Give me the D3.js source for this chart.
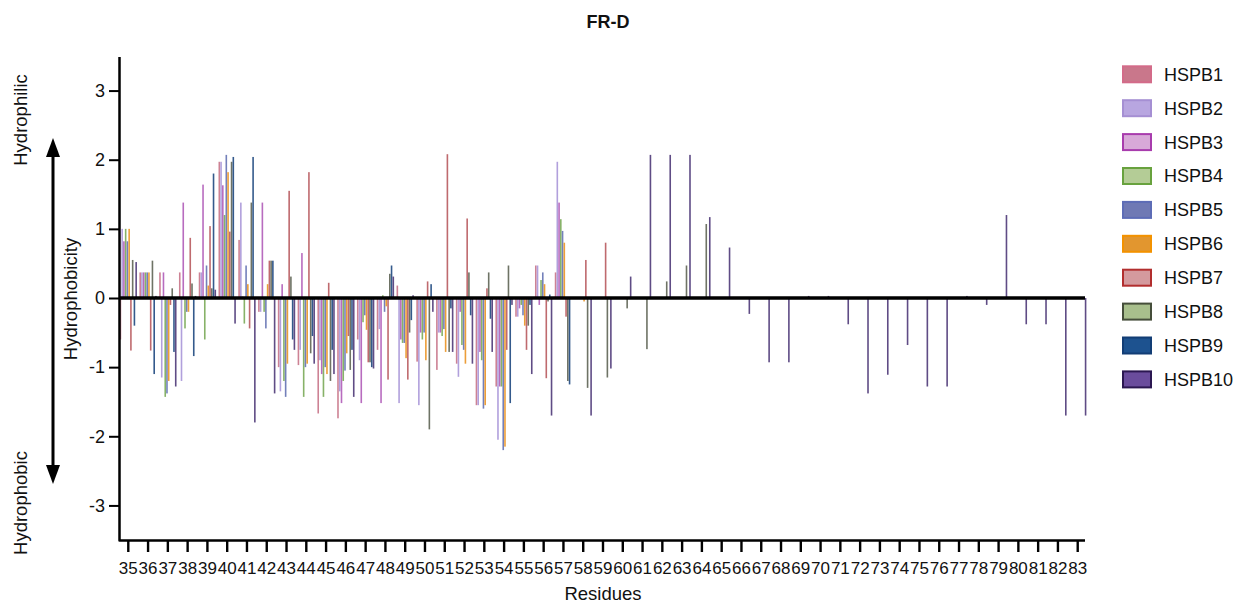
<!DOCTYPE html>
<html>
<head>
<meta charset="utf-8">
<script src="https://cdn.jsdelivr.net/npm/d3@7"></script>
<style>
  body { margin: 0; background: #fff; }
  text { font-family: "Liberation Sans", Arial, Helvetica, sans-serif; fill: #111; }
</style>
</head>
<body>
<svg id="chart" width="1250" height="604"></svg>
<script>
// Residue positions along the x axis
const residues = ["35","36","37","38","39","40","41","42","43","44","45","46","47","48","49","50","51","52","53","54","55","56","57","58","59","60","61","62","63","64","65","66","67","68","69","70","71","72","73","74","75","76","77","78","79","80","81","82","83"];

const seriesNames = ["HSPB1","HSPB2","HSPB3","HSPB4","HSPB5","HSPB6","HSPB7","HSPB8","HSPB9","HSPB10"];

// Hydrophobicity per residue (null = no residue aligned at that position)
const hspb1 = [-0.6,0.37,0.37,0.37,0.37,1.97,0.84,-0.2,-1.0,-0.97,-1.67,-1.74,-0.6,-0.75,0.18,-0.92,-1.04,-0.95,-1.55,-1.28,-0.27,0.47,0.37,
  null,null,null,null,null,null,null,null,null,null,null,null,null,null,null,null,null,null,null,null,null,null,null,null,null,null];
const hspb2 = [1.0,0.37,-1.15,-1.2,0.37,1.97,1.38,-0.2,-1.35,-0.75,-0.9,-1.35,-0.9,-0.45,-1.52,-1.55,-0.5,-1.14,-1.55,-2.05,-0.27,0.47,1.97,
  null,null,null,null,null,null,null,null,null,null,null,null,null,null,null,null,null,null,null,null,null,null,null,null,null,null];
const hspb3 = [0.82,0.37,0.37,1.38,1.64,1.63,0.02,1.38,0.2,0.65,-1.1,-1.52,-1.52,-1.52,-0.6,-0.5,-0.5,-0.2,-0.78,-1.28,-0.15,-0.1,1.38,
  null,null,null,null,null,null,null,null,null,null,null,null,null,null,null,null,null,null,null,null,null,null,null,null,null,null];
const hspb4 = [1.0,0.37,-1.43,-0.44,-0.6,1.2,-0.37,-0.2,-1.2,-1.43,-1.43,-1.2,-0.35,0.04,-0.65,-0.6,-0.55,-0.68,-0.9,-1.28,-0.1,0.26,1.14,
  null,null,null,null,null,null,null,null,null,null,null,null,null,null,null,null,null,null,null,null,null,null,null,null,null,null];
const hspb5 = [0.82,0.37,-1.38,-0.2,0.47,2.07,0.47,-0.44,-1.43,-1.0,-1.0,-1.05,-0.25,-0.2,-0.65,-0.5,-0.45,-0.75,-1.6,-2.2,-0.25,0.37,0.97,
  null,null,null,null,null,null,null,null,null,null,null,null,null,null,null,null,null,null,null,null,null,null,null,null,null,null];
const hspb6 = [1.0,0.37,-1.2,-0.2,0.18,1.82,0.2,0.2,-0.95,-0.95,-1.1,-0.8,-0.46,-0.12,-0.87,-0.9,-0.78,-0.95,-1.55,-2.15,-0.4,0.2,0.8,
  -0.05,null,null,null,null,null,null,null,null,null,null,null,null,null,null,null,null,null,null,null,null,null,null,null,null,null];
const hspb7 = [-0.76,-0.76,-0.1,0.87,1.04,0.96,-0.44,0.54,1.55,1.82,0.22,-0.55,-0.93,-1.18,-1.18,0.24,2.08,1.15,0.14,-0.75,-0.75,-1.16,-0.27,
  0.55,0.8,null,null,null,null,null,null,null,null,null,null,null,null,null,null,null,null,null,null,null,null,null,null,null,null];
const hspb8 = [0.55,0.54,0.14,0.21,0.14,1.97,1.38,0.54,0.31,-0.8,-1.2,-1.04,-0.93,0.35,-0.5,-1.9,-0.78,0.37,0.37,0.47,-0.4,-0.05,-1.2,
  -1.3,-1.15,-0.15,-0.74,0.24,0.47,1.07,null,null,null,null,null,null,null,null,null,null,null,null,null,null,null,null,null,null,null];
const hspb9 = [-0.4,-1.1,-0.78,-0.84,1.8,2.04,2.04,0.54,-0.6,-0.55,-0.75,-0.75,-1.0,0.47,-0.32,0.2,-0.15,-0.25,-0.3,-1.52,-0.1,0.05,-1.25,
  null,null,null,null,null,null,null,null,null,null,null,null,null,null,null,null,null,null,null,null,null,null,null,null,null,null];
const hspb10 = [0.52,0.03,-1.28,0.03,0.12,-0.37,-1.8,-1.38,-0.75,-0.95,-1.1,-1.43,-1.02,0.31,0.04,-0.2,-0.78,-0.95,-0.78,-0.1,-1.1,-1.7,0,
  -1.7,-1.02,0.31,2.07,2.07,2.07,1.17,0.73,-0.23,-0.93,-0.93,0.03,0.03,-0.38,-1.38,-1.11,-0.68,-1.28,-1.28,0.03,-0.1,1.2,-0.38,-0.38,-1.7,-1.7];

const seriesValues = [hspb1, hspb2, hspb3, hspb4, hspb5, hspb6, hspb7, hspb8, hspb9, hspb10];

const yTicks = [-3, -2, -1, 0, 1, 2, 3];

// Legend swatch fill / outline, and the tone used for the thin bars
const swatchFill   = ["#c9778b","#b8a6e0","#d8a9d8","#b4cc96","#6f79b4","#e2962f","#d49a9e","#a8bf8c","#1d528f","#6a4c9c"];
const swatchStroke = ["#d36b89","#a58fd3","#a83cad","#68a23e","#5d6cb6","#f39200","#b22e2e","#454e3a","#123d75","#2b1751"];
const barColor     = ["#c87488","#a996d8","#b05cb8","#7aaa58","#6472b2","#ea9424","#b85a5e","#5e6454","#1e4880","#4e3878"];

const FONT = '"Liberation Sans", Arial, Helvetica, sans-serif';
const svg = d3.select("#chart");

const x = d3.scaleBand().domain(residues).range([118.4, 1087.6]).padding(0);
const xs = d3.scaleBand().domain(seriesNames).range([-8.75, 8.75]).padding(0);
const y = d3.scaleLinear().domain([-3.5, 3.5]).range([540, 56]);
const barW = 1.6;

// Bars
const barsG = svg.append("g");
seriesValues.forEach((vals, si) => {
  const pts = vals.map((v, i) => ({ v, r: residues[i] })).filter(d => d.v !== null);
  barsG.append("g")
    .selectAll("rect")
    .data(pts)
    .join("rect")
    .attr("x", d => x(d.r) + x.bandwidth() / 2 + xs(seriesNames[si]) + (xs.bandwidth() - barW) / 2)
    .attr("y", d => y(Math.max(0, d.v)))
    .attr("width", barW)
    .attr("height", d => Math.max(0.6, Math.abs(y(d.v) - y(0))))
    .attr("fill", barColor[si])
    .attr("opacity", 0.9);
});

// Zero line
svg.append("line")
  .attr("x1", 120).attr("x2", 1085)
  .attr("y1", y(0)).attr("y2", y(0))
  .attr("stroke", "#000").attr("stroke-width", 3.5);

// Axis frame
svg.append("path")
  .attr("d", `M119.5,57 V540.5 H1085`)
  .attr("fill", "none").attr("stroke", "#000")
  .attr("stroke-width", 2.5).attr("stroke-linejoin", "round");

// Y axis (plain hyphen for negative labels)
const yAxis = svg.append("g")
  .attr("transform", "translate(120,0)")
  .call(d3.axisLeft(y).tickValues(yTicks).tickSize(11).tickPadding(4).tickFormat(d => String(d)));
yAxis.select(".domain").remove();
yAxis.selectAll(".tick line").attr("stroke", "#000").attr("stroke-width", 2);
yAxis.selectAll(".tick text").style("font-size", "18px").style("font-family", FONT).attr("fill", "#222");

// X axis
const xAxis = svg.append("g")
  .attr("transform", "translate(0,540)")
  .call(d3.axisBottom(x).tickSize(12).tickPadding(10));
xAxis.select(".domain").remove();
xAxis.selectAll(".tick line").attr("stroke", "#000").attr("stroke-width", 2.4);
xAxis.selectAll(".tick text").style("font-size", "17px").style("font-family", FONT).attr("fill", "#222");

// Titles
svg.append("text").attr("x", 608).attr("y", 28).attr("text-anchor", "middle")
  .style("font-size", "18px").style("font-weight", "bold").text("FR-D");
svg.append("text").attr("x", 603).attr("y", 600).attr("text-anchor", "middle")
  .style("font-size", "18.5px").text("Residues");
svg.append("text").attr("transform", "translate(77,299) rotate(-90)").attr("text-anchor", "middle")
  .style("font-size", "18.5px").text("Hydrophobicity");
svg.append("text").attr("transform", "translate(27,120) rotate(-90)").attr("text-anchor", "middle")
  .style("font-size", "18.5px").text("Hydrophilic");
svg.append("text").attr("transform", "translate(27,503) rotate(-90)").attr("text-anchor", "middle")
  .style("font-size", "18.5px").text("Hydrophobic");

// Double-headed arrow
svg.append("line").attr("x1", 53).attr("x2", 53).attr("y1", 152).attr("y2", 470)
  .attr("stroke", "#000").attr("stroke-width", 3);
svg.append("path").attr("d", "M53,138 L46,157 L60,157 Z").attr("fill", "#000");
svg.append("path").attr("d", "M53,484 L46,465 L60,465 Z").attr("fill", "#000");

// Legend
const legend = svg.append("g");
seriesNames.forEach((name, i) => {
  const cy = 74.3 + 33.9 * i;
  legend.append("rect").attr("x", 1123).attr("y", cy - 8).attr("width", 28).attr("height", 16)
    .attr("fill", swatchFill[i]).attr("stroke", swatchStroke[i]).attr("stroke-width", 2);
  legend.append("text").attr("x", 1164).attr("y", cy + 6.4)
    .style("font-size", "18px").attr("fill", "#111").text(name);
});
</script>
</body>
</html>
